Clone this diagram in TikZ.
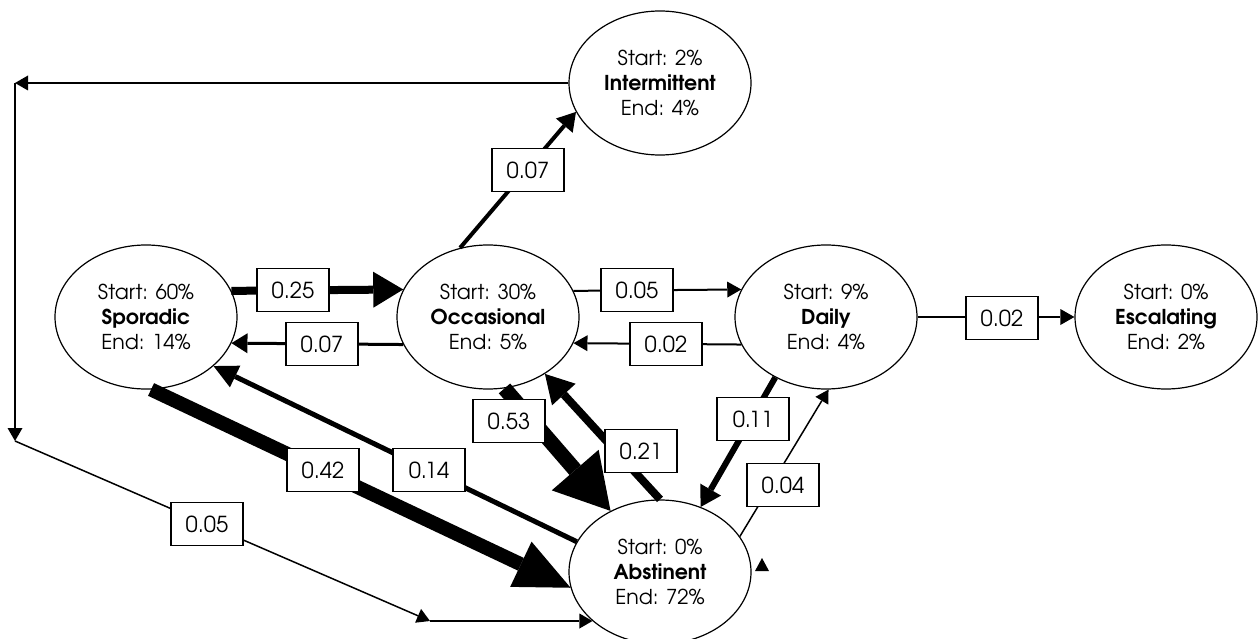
\documentclass[tikz,border=0pt]{standalone}
\usepackage{fontspec}
\setmainfont{TeX Gyre Adventor}
\usetikzlibrary{shapes.geometric,arrows.meta}
\begin{document}
\begin{tikzpicture}[x=1pt,y=-1pt,
  state/.style={ellipse,draw,line width=1.2pt,minimum width=182pt,minimum height=144pt,inner sep=0pt,align=center,font=\fontsize{20.5}{25}\selectfont},
  lbl/.style={draw,fill=white,line width=1.3pt,minimum width=72pt,minimum height=43pt,inner sep=0pt,font=\fontsize{22}{24}\selectfont},
  w1/.style={line width=1.5pt,-{Triangle[length=13pt,width=15pt,line width=0pt]}},
  w2/.style={line width=2pt,-{Triangle[length=14pt,width=16pt,line width=0pt]}},
  w3/.style={line width=3pt,-{Triangle[length=16pt,width=20pt,line width=0pt]}},
  w4/.style={line width=4pt,-{Triangle[length=18pt,width=22pt,line width=0pt]}},
  w5/.style={line width=5pt,-{Triangle[length=24pt,width=24pt,line width=0pt]}},
  w6/.style={line width=6pt,-{Triangle[length=20pt,width=24pt,line width=0pt]}},
  w8/.style={line width=8pt,-{Triangle[length=28pt,width=32pt,line width=0pt]}},
  w8b/.style={line width=8pt,-{Triangle[length=30pt,width=36pt,line width=0pt]}},
  w14/.style={line width=14pt,-{Triangle[length=55pt,width=50pt,line width=0pt]}},
  w15/.style={line width=15pt,-{Triangle[length=54pt,width=62pt,line width=0pt]}}
]
\useasboundingbox (0,0) rectangle (1260,639);

\node[state] (I) at (660,83)   {Start: 2\%\\\textbf{Intermittent}\\End: 4\%};
\node[state] (S) at (146,317)  {Start: 60\%\\\textbf{Sporadic}\\End: 14\%};
\node[state] (O) at (488,317)  {Start: 30\%\\\textbf{Occasional}\\End: 5\%};
\node[state] (D) at (826,317)  {Start: 9\%\\\textbf{Daily}\\End: 4\%};
\node[state] (E) at (1166,317) {Start: 0\%\\\textbf{Escalating}\\End: 2\%};
\node[state] (A) at (660,572)  {Start: 0\%\\\textbf{Abstinent}\\End: 72\%};

\coordinate (c1) at (15,83);
\coordinate (c2) at (15,441);
\coordinate (c3) at (430,621);

% loop Intermittent -> Abstinent
\draw[w1] (I.west) -- (c1);
\draw[w1] (c1) -- (c2);
\draw[w1] (c2) -- (c3);
\draw[w1] (c3) -- (c3 -| A.216);

% horizontal links
\draw[w8b] (S.17.7) -- (O.162.3);
\draw[w3] (O.-162.3) -- (S.-17.7);
\draw[w2] (O.17.7) -- (D.162.3);
\draw[w2] (D.-162.3) -- (O.-17.7);
\draw[w2] (D.east) -- (E.west);

% diagonal links
\draw[w4] (O.112.1) -- (I.199.4);
\draw[w14] (S.-86.7) -- (A.190);
\draw[w5] (A.160.6) -- (S.-36.7);
\draw[w15] (O.-77.9) -- (A.129.6);
\draw[w8] (A.90) -- (O.-45);
\draw[w6] (D.230.8) -- (A.58.7);
\draw[w1] (A.24.3) -- (D.-88.4);

% small arrowhead near Abstinent
\fill (762,558) -- (769,571) -- (755,571) -- cycle;

% labels
\node[lbl] (l1)  at (207,524)  {0.05};
\node[lbl] (l2)  at (528,170)  {0.07};
\node[lbl] (l3)  at (293,290)  {0.25};
\node[lbl] (l4)  at (322,344)  {0.07};
\node[lbl] (l5)  at (637,290)  {0.05};
\node[lbl] (l6)  at (666,344)  {0.02};
\node[lbl] (l7)  at (1002,318) {0.02};
\node[lbl] (l8)  at (509,421)  {0.53};
\node[lbl] (l9)  at (641,451)  {0.21};
\node[lbl] (l10) at (323,470)  {0.42};
\node[lbl] (l11) at (429,470)  {0.14};
\node[lbl] (l12) at (753,419)  {0.11};
\node[lbl] (l13) at (783,485)  {0.04};
\end{tikzpicture}
\end{document}
